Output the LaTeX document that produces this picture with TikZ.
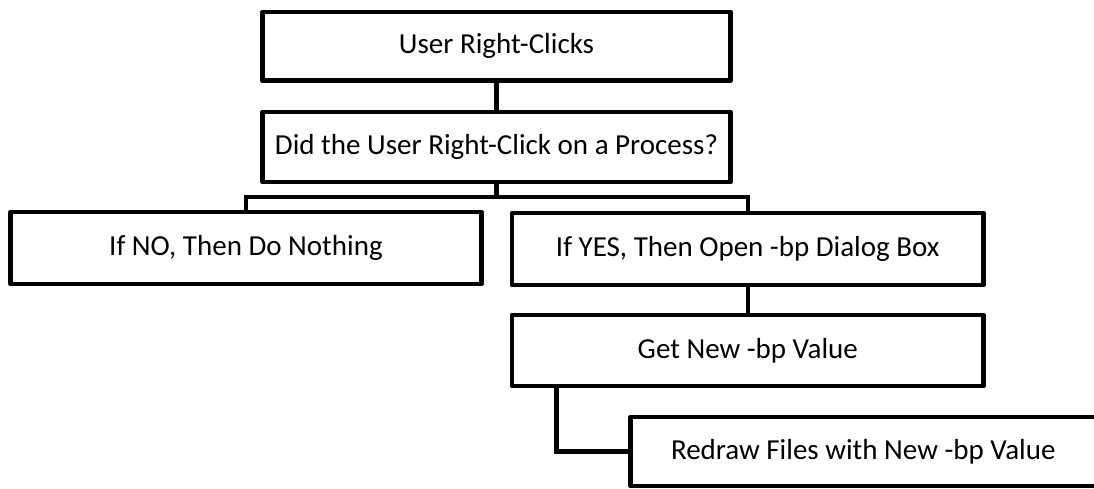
\documentclass[tikz,border=0pt]{standalone}
\usepackage{fontspec}
\setmainfont{Carlito}
\begin{document}
\begin{tikzpicture}[x=1pt,y=-1pt,
  stepbox/.style={draw=black, line width=4.5pt, line join=round, fill=white,
    rectangle, inner sep=0pt, font=\fontsize{29}{34}\selectfont},
  link/.style={draw=black, line width=4.5pt, line join=miter}]
  \useasboundingbox (0,0) rectangle (1094,488);

  % process boxes
  \node[stepbox, minimum width=468pt, minimum height=68.5pt] (click) at (496.5,46.25) {User Right-Clicks};
  \node[stepbox, minimum width=468pt, minimum height=70pt] (ask) at (496.5,147) {Did the User Right-Click on a Process?};
  \node[stepbox, minimum width=471pt, minimum height=72pt] (no) at (246,248) {If NO, Then Do Nothing};
  \node[stepbox, minimum width=471.5pt, minimum height=72pt] (yes) at (747.75,249) {If YES, Then Open -bp Dialog Box};
  \node[stepbox, minimum width=471.5pt, minimum height=71pt] (get) at (747.75,350.5) {Get New -bp Value};
  \node[stepbox, minimum width=465.5pt, minimum height=69pt] (redraw) at (863.25,451.5) {Redraw Files with New -bp Value};

  % connectors
  \draw[link] (click.south) -- (ask.north);
  \coordinate (split) at (496.5,197);
  \draw[link] (ask.south) -- (split);
  \draw[link] (split) -| (no.north);
  \draw[link] (split) -| (yes.north);
  \draw[link] (yes.south) -- (get.north);
  \draw[link] ([xshift=46.5pt]get.south west) |- (redraw.west);
\end{tikzpicture}
\end{document}
